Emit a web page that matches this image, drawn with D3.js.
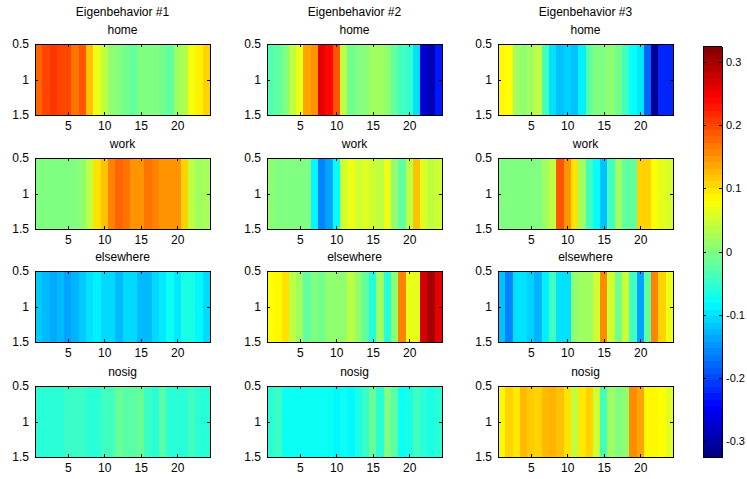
<!DOCTYPE html>
<html>
<head>
<meta charset="utf-8">
<script src="https://cdn.jsdelivr.net/npm/d3@7"></script>
<style>
  body { margin: 0; background: #fff; }
  text { font-family: Arial, "Liberation Sans", sans-serif; }
</style>
</head>
<body>
<div id="viz"></div>
<script>
const width = 747;
const height = 479;

// Data: hourly eigenbehavior weights (hour 1..24)
const hours = [1,2,3,4,5,6,7,8,9,10,11,12,13,14,15,16,17,18,19,20,21,22,23,24];
const titles = ['Eigenbehavior #1', 'Eigenbehavior #2', 'Eigenbehavior #3'];
const places = ['home', 'work', 'elsewhere', 'nosig'];
const xTicks = [5, 10, 15, 20];
const yTicks = [0.5, 1, 1.5];
const cbTicks = [-0.3, -0.2, -0.1, 0, 0.1, 0.2, 0.3];

const eb1Home = [0.18,0.20,0.21,0.20,0.20,0.17,0.19,0.12,0.07,0.04,0.01,0,-0.01,-0.02,0,0,0,-0.01,-0.02,0.02,0.03,0.075,0.09,0.11];
const eb1Work = [0,0,0,0,0,0,0.01,0.04,0.10,0.12,0.16,0.18,0.17,0.15,0.15,0.17,0.16,0.15,0.15,0.15,0.11,0.04,0.02,0.025];
const eb1Else = [-0.115,-0.125,-0.135,-0.125,-0.14,-0.13,-0.115,-0.1,-0.09,-0.105,-0.105,-0.125,-0.105,-0.105,-0.125,-0.125,-0.105,-0.095,-0.075,-0.095,-0.065,-0.065,-0.085,-0.105];
const eb1Nosig = [-0.055,-0.055,-0.055,-0.055,-0.045,-0.045,-0.045,-0.055,-0.055,-0.04,-0.04,-0.015,-0.025,-0.025,-0.015,-0.045,-0.055,-0.025,-0.055,-0.055,-0.055,-0.04,-0.055,-0.055];

const eb2Home = [-0.03,-0.02,0,0.04,0.07,0.14,0.15,0.26,0.24,0.19,0.04,-0.01,0,0.005,0.02,0.02,0.01,-0.02,-0.04,-0.05,-0.10,-0.27,-0.29,-0.23];
const eb2Work = [0.01,0,0,0,0,0,-0.085,-0.16,-0.14,-0.08,0.05,0.07,0.05,0.06,0.05,0.04,0.07,0.01,-0.02,0.04,0.12,0.06,0.04,0.05];
const eb2Else = [0.08,0.085,0.10,0.04,0.02,-0.02,0,-0.01,0.01,0.01,0.01,0.04,0.01,-0.02,-0.06,0.02,-0.06,0.01,0.16,0.07,0.065,0.27,0.30,0.26];
const eb2Nosig = [-0.055,-0.045,-0.075,-0.075,-0.075,-0.075,-0.075,-0.075,-0.075,-0.085,-0.075,-0.085,-0.065,-0.045,-0.015,-0.055,0,-0.025,-0.075,-0.065,-0.04,-0.055,-0.065,-0.055];

const eb3Home = [0.085,0.08,0.02,0.01,0.02,0.04,-0.04,-0.10,-0.12,-0.11,-0.12,-0.09,-0.02,0,0,0.01,-0.01,-0.04,-0.08,-0.095,-0.18,-0.31,-0.22,-0.22];
const eb3Work = [0,0,0,0,0,0,0.02,0.04,0.19,0.15,0.10,0.02,-0.04,-0.08,-0.12,-0.04,0.02,-0.02,-0.02,0.11,0.11,0.08,0.065,0.055];
const eb3Else = [-0.12,-0.16,-0.10,-0.10,-0.11,-0.13,-0.09,-0.04,-0.10,-0.10,0.01,0.02,0.02,0.05,0.155,0.05,-0.01,0.05,-0.04,-0.14,-0.02,0.16,0.11,0.07];
const eb3Nosig = [0.085,0.11,0.095,0.125,0.115,0.11,0.125,0.13,0.12,0.10,0.04,0.095,0.11,0.05,-0.04,0.02,0,0.01,0.155,0.14,0.085,0.085,0.08,0.06];

const grid = [
  [eb1Home, eb1Work, eb1Else, eb1Nosig],
  [eb2Home, eb2Work, eb2Else, eb2Nosig],
  [eb3Home, eb3Work, eb3Else, eb3Nosig]
];

// layout
const colX = [35, 267, 498];
const rowY = [44, 158, 271, 386];
const panelW = 175;
const panelH = 71;
const clim = [-0.325, 0.325];
const fmt = d => String(d);

// MATLAB style jet colormap
const clamp = v => Math.max(0, Math.min(1, v));
const jet = t => {
  const r = clamp(1.5 - Math.abs(4 * t - 3));
  const g = clamp(1.5 - Math.abs(4 * t - 2));
  const b = clamp(1.5 - Math.abs(4 * t - 1));
  return d3.rgb(r * 255, g * 255, b * 255).toString();
};
const color = d3.scaleSequential(jet).domain(clim).clamp(true);

const svg = d3.select('#viz')
  .append('svg')
    .attr('width', width)
    .attr('height', height);

const styleAxis = (g, size) => {
  g.select('.domain').attr('stroke', '#000');
  g.selectAll('.tick line').attr('stroke', '#000');
  g.selectAll('.tick text').attr('font-size', size || 12).attr('fill', '#000')
    .style('font-family', 'Arial, "Liberation Sans", sans-serif');
  g.attr('shape-rendering', 'crispEdges');
};

grid.forEach((col, ci) => {
  svg.append('text')
    .attr('x', colX[ci] + panelW / 2)
    .attr('y', 16)
    .attr('text-anchor', 'middle')
    .attr('font-size', 12)
    .text(titles[ci]);

  col.forEach((vals, ri) => {
    const x = d3.scaleLinear().domain([0.5, 24.5]).range([colX[ci], colX[ci] + panelW]);
    const y = d3.scaleLinear().domain([0.5, 1.5]).range([rowY[ri], rowY[ri] + panelH]);

    svg.append('text')
      .attr('x', colX[ci] + panelW / 2)
      .attr('y', rowY[ri] - 10)
      .attr('text-anchor', 'middle')
      .attr('font-size', 12)
      .text(places[ri]);

    svg.append('g')
      .selectAll('rect')
      .data(hours)
      .join('rect')
        .attr('x', d => x(d - 0.5))
        .attr('y', y(0.5))
        .attr('width', d => x(d + 0.5) - x(d - 0.5) + 0.5)
        .attr('height', y(1.5) - y(0.5))
        .attr('fill', (d, i) => color(vals[i]))
        .attr('shape-rendering', 'crispEdges');

    svg.append('g')
      .attr('transform', `translate(0, ${rowY[ri] + panelH})`)
      .call(d3.axisBottom(x).tickValues(xTicks).tickSize(-3).tickSizeOuter(0).tickPadding(6).tickFormat(fmt))
      .call(styleAxis);
    svg.append('g')
      .attr('transform', `translate(0, ${rowY[ri]})`)
      .call(d3.axisTop(x).tickValues(xTicks).tickSize(-3).tickSizeOuter(0).tickFormat(''))
      .call(styleAxis);
    svg.append('g')
      .attr('transform', `translate(${colX[ci]}, 0)`)
      .call(d3.axisLeft(y).tickValues(yTicks).tickSize(-3).tickSizeOuter(0).tickPadding(6).tickFormat(fmt))
      .call(styleAxis);
    svg.append('g')
      .attr('transform', `translate(${colX[ci] + panelW}, 0)`)
      .call(d3.axisRight(y).tickValues(yTicks).tickSize(-3).tickSizeOuter(0).tickFormat(''))
      .call(styleAxis);
  });
});

// colorbar
const cbX = 703;
const cbW = 19;
const cbY = d3.scaleLinear().domain(clim).range([457, 46]);
const levels = d3.range(64);
const step = (clim[1] - clim[0]) / levels.length;
svg.append('g')
  .selectAll('rect')
  .data(levels)
  .join('rect')
    .attr('x', cbX)
    .attr('y', d => cbY(clim[0] + (d + 1) * step))
    .attr('width', cbW)
    .attr('height', d => cbY(clim[0] + d * step) - cbY(clim[0] + (d + 1) * step) + 0.5)
    .attr('fill', d => color(clim[0] + (d + 0.5) * step))
    .attr('shape-rendering', 'crispEdges');

svg.append('g')
  .attr('transform', `translate(${cbX + cbW}, 0)`)
  .call(d3.axisRight(cbY).tickValues(cbTicks).tickSize(-3).tickSizeOuter(0).tickPadding(4).tickFormat(fmt))
  .call(g => styleAxis(g, 11));
svg.append('g')
  .attr('transform', `translate(${cbX}, 0)`)
  .call(d3.axisLeft(cbY).tickValues(cbTicks).tickSize(-3).tickSizeOuter(0).tickFormat(''))
  .call(styleAxis);
[clim[0], clim[1]].forEach(v => {
  svg.append('line')
    .attr('x1', cbX).attr('x2', cbX + cbW)
    .attr('y1', cbY(v)).attr('y2', cbY(v))
    .attr('stroke', '#000').attr('shape-rendering', 'crispEdges');
});
</script>
</body>
</html>
